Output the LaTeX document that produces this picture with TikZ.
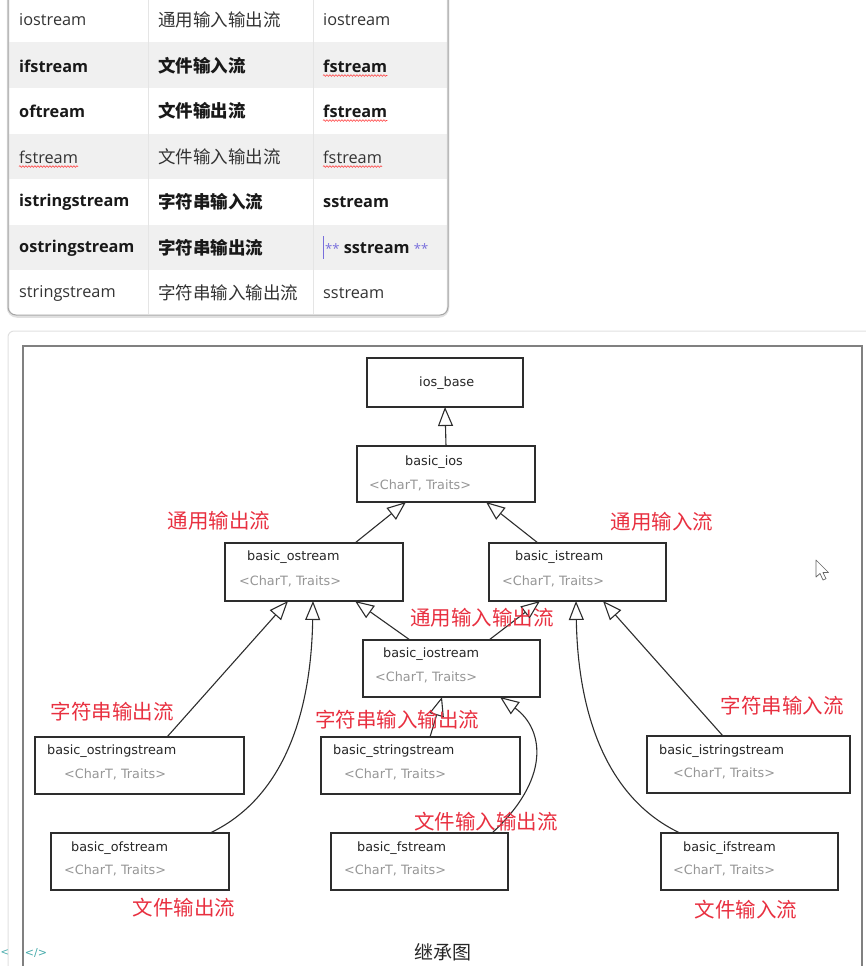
\documentclass[tikz,border=0pt]{standalone}
\usepackage{fontspec}
\setmainfont{DejaVu Sans}
\newfontfamily\cjk{Noto Sans CJK SC}
\newfontfamily\lat{Open Sans}
\usetikzlibrary{arrows.meta,decorations.pathmorphing,calc}
\definecolor{lblred}{RGB}{232,48,64}
\definecolor{pgray}{RGB}{150,150,150}
\definecolor{ln}{RGB}{45,45,45}
\definecolor{ast}{RGB}{120,110,220}
\definecolor{tealic}{RGB}{70,170,170}
\begin{document}
\begin{tikzpicture}[x=1pt,y=-1pt,
  box/.style={draw=ln, line width=1.4pt, fill=white, anchor=north west, inner sep=0pt, outer sep=0pt},
  nm/.style={anchor=west, inner sep=0pt, font=\fontsize{12.8}{14}\selectfont, text=black!85},
  pr/.style={anchor=west, inner sep=0pt, font=\fontsize{12.8}{14}\selectfont, text=pgray},
  lbl/.style={inner sep=0pt, font=\cjk\fontsize{20.5}{22}\selectfont, text=lblred},
  inh/.style={draw=ln, line width=1.1pt, -{Triangle[open, length=19pt, width=15pt, line width=1.1pt]}},
  tl/.style={anchor=west, inner sep=0pt, font=\lat\fontsize{16.3}{18}\selectfont, text=black!80},
  tlb/.style={anchor=west, inner sep=0pt, font=\lat\bfseries\fontsize{16.3}{18}\selectfont, text=black!90},
  tc/.style={anchor=west, inner sep=0pt, font=\cjk\fontsize{17.5}{20}\selectfont, text=black!80},
  tcb/.style={anchor=west, inner sep=0pt, font=\cjk\bfseries\fontsize{17.5}{20}\selectfont, text=black!90},
  wavy/.style={draw=red!75, line width=0.6pt, decorate, decoration={snake, amplitude=0.8pt, segment length=3pt}}
]
\useasboundingbox (0,0) rectangle (865,966);

% ---------- table ----------
\fill[white] (8,-12) rectangle (448,315);
\fill[black!6] (9,42) rectangle (447,88);
\fill[black!6] (9,134) rectangle (447,179);
\fill[black!6] (9,225) rectangle (447,270);
\draw[black!10, line width=0.8pt] (148,-12) -- (148,314);
\draw[black!10, line width=0.8pt] (313,-12) -- (313,314);
\draw[black!12, line width=2.5pt, rounded corners=9pt] (8,-12) rectangle (448,316.5);
\draw[black!35, line width=1pt, rounded corners=8pt] (8,-12) rectangle (448,315);

\node[tl] (r1a) at (19,20) {iostream};
\node[tc] (r1b) at (158,20) {通用输入输出流};
\node[tl] (r1c) at (323,20) {iostream};

\node[tlb] (r2a) at (19,66) {ifstream};
\node[tcb] (r2b) at (158,66) {文件输入流};
\node[tlb] (r2c) at (323,66) {fstream};

\node[tlb] (r3a) at (19,111) {oftream};
\node[tcb] (r3b) at (158,111) {文件输出流};
\node[tlb] (r3c) at (323,111) {fstream};

\node[tl] (r4a) at (19,157) {fstream};
\node[tc] (r4b) at (158,157) {文件输入输出流};
\node[tl] (r4c) at (323,157) {fstream};

\node[tlb] (r5a) at (19,202) {istringstream};
\node[tcb] (r5b) at (158,202) {字符串输入流};
\node[tlb] (r5c) at (323,202) {sstream};

\node[tlb] (r6a) at (19,248) {ostringstream};
\node[tcb] (r6b) at (158,248) {字符串输出流};
\node[tlb] (r6c) at (325,248) {\textcolor{ast}{\mdseries\fontsize{13}{15}\selectfont **} sstream \textcolor{ast}{\mdseries\fontsize{13}{15}\selectfont **}};
\draw[ast, line width=0.8pt] (323.5,236) -- (323.5,259);

\node[tl] (r7a) at (19,293) {stringstream};
\node[tc] (r7b) at (158,293) {字符串输入输出流};
\node[tl] (r7c) at (323,293) {sstream};

\foreach \t in {r2c,r3c,r4a,r4c}
  \draw[wavy] ($(\t.south west)+(0,3)$) -- ($(\t.south east)+(0,3)$);

% ---------- lower panel ----------
\draw[black!12, line width=1pt, rounded corners=6pt] (8,331) rectangle (880,1000);
\draw[black!50, line width=1.4pt] (23,1000) -- (23,346) -- (862,346) -- (862,1000);

% boxes
\node[box, minimum width=156pt, minimum height=49pt] (iosbase) at (367,358) {};
\node[box, minimum width=178pt, minimum height=56pt] (bios) at (357,446) {};
\node[box, minimum width=178pt, minimum height=58pt] (ostr) at (225,543) {};
\node[box, minimum width=177pt, minimum height=58pt] (istr) at (489,543) {};
\node[box, minimum width=177pt, minimum height=57pt] (iostr) at (363,640) {};
\node[box, minimum width=209pt, minimum height=57pt] (ostrs) at (35,737) {};
\node[box, minimum width=199pt, minimum height=57pt] (ss) at (321,737) {};
\node[box, minimum width=203pt, minimum height=57pt] (istrs) at (647,736) {};
\node[box, minimum width=178pt, minimum height=57pt] (ofs) at (51,833) {};
\node[box, minimum width=177pt, minimum height=57pt] (fs) at (331,833) {};
\node[box, minimum width=177pt, minimum height=57pt] (ifs) at (661,833) {};

% box texts
\node[nm] (tiosbase) at (419,383) {ios\_base};
\node[nm] (tbios) at (405,462) {basic\_ios};
\node[pr] (pbios) at (369,485) {<CharT, Traits>};
\node[nm] (tostr) at (247,557) {basic\_ostream};
\node[pr] (postr) at (239,581) {<CharT, Traits>};
\node[nm] (tistr) at (515,557) {basic\_istream};
\node[pr] (pistr) at (502,581) {<CharT, Traits>};
\node[nm] (tiostr) at (383,654) {basic\_iostream};
\node[pr] (piostr) at (375,677) {<CharT, Traits>};
\node[nm] (tostrs) at (47,751) {basic\_ostringstream};
\node[pr] (postrs) at (64,774) {<CharT, Traits>};
\node[nm] (tss) at (333,751) {basic\_stringstream};
\node[pr] (pss) at (344,774) {<CharT, Traits>};
\node[nm] (tistrs) at (659,751) {basic\_istringstream};
\node[pr] (pistrs) at (673,773) {<CharT, Traits>};
\node[nm] (tofs) at (71,848) {basic\_ofstream};
\node[pr] (pofs) at (64,870) {<CharT, Traits>};
\node[nm] (tfs) at (357,848) {basic\_fstream};
\node[pr] (pfs) at (344,870) {<CharT, Traits>};
\node[nm] (tifs) at (683,848) {basic\_ifstream};
\node[pr] (pifs) at (673,870) {<CharT, Traits>};

% inheritance connectors
\draw[inh] (bios.north) -- (iosbase.south);
\draw[inh] ($(ostr.north west)+(130,0)$) -- ($(bios.south west)+(49,0)$);
\draw[inh] ($(istr.north west)+(49,0)$) -- ($(bios.south west)+(129,0)$);
\draw[inh] ($(iostr.north west)+(47,0)$) -- ($(ostr.south west)+(130,0)$);
\draw[inh] ($(iostr.north west)+(126,0)$) -- ($(istr.south west)+(51,0)$);
\draw[inh] ($(ostrs.north west)+(132,0)$) -- ($(ostr.south west)+(63,0)$);
\draw[inh] ($(ofs.north west)+(159,0)$) .. controls (280,800) and (311,720) .. ($(ostr.south west)+(88,0)$);
\draw[inh] ($(ss.north west)+(109,0)$) -- ($(iostr.south west)+(79,0)$);
\draw[inh] ($(fs.north west)+(161,0)$) .. controls (550,780) and (545,730) .. ($(iostr.south west)+(137,0)$);
\draw[inh] ($(istrs.north west)+(76,0)$) -- ($(istr.south west)+(114,0)$);
\draw[inh] ($(ifs.north west)+(19,0)$) .. controls (610,800) and (578,720) .. ($(istr.south west)+(87,0)$);

% red labels
\node[lbl] (l1) at (219,521) {通用输出流};
\node[lbl] (l2) at (662,522) {通用输入流};
\node[lbl] (l3) at (482,618) {通用输入输出流};
\node[lbl] (l4) at (112,712) {字符串输出流};
\node[lbl] (l5) at (397,720) {字符串输入输出流};
\node[lbl] (l6) at (782,706) {字符串输入流};
\node[lbl] (l7) at (486,822) {文件输入输出流};
\node[lbl] (l8) at (184,908) {文件输出流};
\node[lbl] (l9) at (746,910) {文件输入流};

% caption and small marks
\node[inner sep=0pt, font=\cjk\fontsize{19}{21}\selectfont, text=black!85] (cap) at (443,952) {继承图};
\node[inner sep=0pt, anchor=west, font=\fontsize{10}{12}\selectfont, text=tealic] (lt) at (0.5,953) {<};
\node[inner sep=0pt, font=\fontsize{11}{12}\selectfont, text=tealic] (code) at (36,953) {</>};

% mouse cursor
\draw[black!60, fill=white, line width=0.7pt, line join=round]
  (816,560) -- (816,577) -- (820,573.5) -- (823,580) -- (826,578.7) -- (823,572.5) -- (828.5,572.5) -- cycle;
\end{tikzpicture}
\end{document}
